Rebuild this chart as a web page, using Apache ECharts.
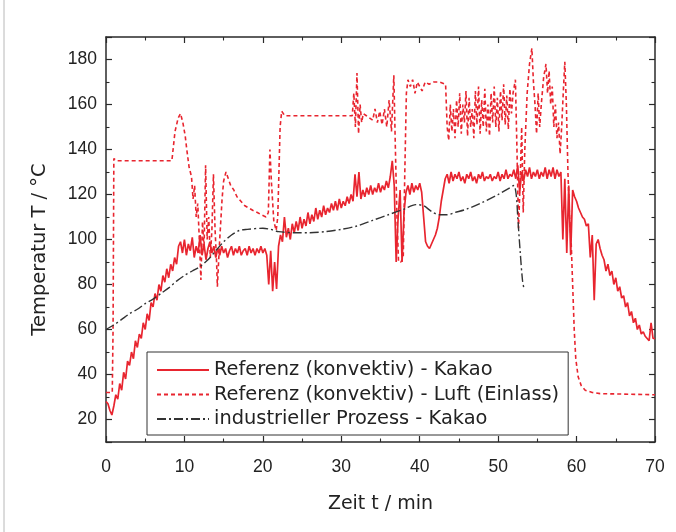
<!DOCTYPE html>
<html><head><meta charset="utf-8">
<script src="https://cdn.jsdelivr.net/npm/echarts@6/dist/echarts.min.js"></script>
<style>html,body{margin:0;padding:0;background:#fff}#c{width:676px;height:532px}</style>
</head><body><div id="c"></div>
<script>
// ---- data ----
const seriesNames = [
  'Referenz (konvektiv) - Kakao',
  'Referenz (konvektiv) - Luft (Einlass)',
  'industrieller Prozess - Kakao'
];
const xTickLabels = [0, 10, 20, 30, 40, 50, 60, 70];
const yTickLabels = [20, 40, 60, 80, 100, 120, 140, 160, 180];

// Kakao: sampled every 0.25 min from t = 0 to 70
const kakaoStart = 0, kakaoStep = 0.25;
const kakaoValues = [
  28,27,24,22,26,31,29,36,33,41,38,46,44,50,47,55,52,58,56,63,
  60,67,64,72,70,76,73,80,77,84,81,87,83,89,86,92,89,97,99,94,
  100,93,98,95,101,92,97,94,102,93,98,91,96,99,94,97,92,96,93,97,
  94,96,92,95,97,93,96,94,97,93,95,96,93,97,94,96,93,96,94,97,
  94,96,93,80,95,77,90,78,97,102,99,110,101,105,100,107,103,108,104,110,
  105,109,106,112,107,111,108,114,109,113,110,115,111,114,112,116,113,117,113,118,
  114,117,115,119,116,120,117,129,119,130,118,122,119,123,120,124,120,123,121,125,
  121,124,122,126,123,128,135,124,90,110,122,90,112,121,124,120,125,121,124,122,
  125,121,110,99,97,96,98,100,102,105,110,117,122,127,129,125,130,126,129,127,
  130,126,128,125,129,127,130,126,128,125,129,127,130,126,128,127,129,126,128,127,
  130,126,129,127,131,127,129,128,131,127,133,121,130,126,131,128,132,127,130,128,
  131,127,130,128,132,127,131,128,132,127,131,128,130,100,127,94,124,93,122,119,
  117,114,112,110,109,106,107,92,102,73,98,100,96,93,91,86,89,84,86,80,
  83,77,79,74,75,70,72,66,68,63,65,60,62,58,59,57,57,55,63,56,
  56
];

// Luft (Einlass)
const luftTime = [
  0,0.8,0.9,1.0,1.3,8.4,8.8,9.2,9.5,9.8,10.1,10.3,10.6,10.9,11.1,11.3,11.5,11.7,11.9,12.1,
  12.3,12.5,12.7,12.9,13.1,13.3,13.5,13.7,13.9,14.1,14.2,14.5,14.8,15.0,15.3,15.6,15.9,16.3,16.7,17.2,
  17.7,18.2,18.7,19.3,19.8,20.4,20.7,20.9,21.1,21.4,21.7,21.9,22.2,22.4,22.8,31.4,31.6,31.8,32.0,32.2,
  32.4,32.6,32.8,33.2,34.0,34.3,34.6,34.9,35.2,35.5,35.8,36.1,36.4,36.7,36.9,37.1,37.3,37.6,37.9,38.1,
  38.3,38.5,38.8,39.1,39.4,39.7,40.0,40.3,40.7,41.2,41.8,42.5,43.3,43.5,43.7,43.9,44.1,44.3,44.5,44.7,
  44.9,45.1,45.3,45.5,45.7,45.9,46.1,46.3,46.5,46.7,46.9,47.1,47.3,47.5,47.7,47.9,48.1,48.3,48.5,48.7,
  48.9,49.1,49.3,49.5,49.7,49.9,50.1,50.3,50.5,50.7,50.9,51.1,51.3,51.5,51.7,51.9,52.2,52.4,52.6,52.8,
  53.0,53.2,53.4,53.7,54.0,54.3,54.5,54.7,54.9,55.1,55.3,55.5,55.8,56.1,56.3,56.5,56.7,56.9,57.1,57.3,
  57.5,57.7,57.9,58.1,58.3,58.5,58.7,58.9,59.1,59.3,59.5,59.7,59.9,60.2,60.6,61.1,62,63,70
];
const luftValues = [
  32,32,60,136,135,135,148,154,156,152,146,140,132,128,118,124,110,116,100,82,
  108,96,133,100,110,92,104,129,105,90,79,100,118,126,130,127,124,122,119,117,
  115,114,113,112,111,110,112,140,125,108,104,110,150,157,155,155,165,150,174,147,
  160,152,156,155,153,158,152,157,151,158,150,162,148,173,140,110,90,90,92,130,
  165,171,168,171,165,170,168,166,170,169,170,170,169,150,144,160,148,158,145,162,
  150,165,147,160,152,166,146,163,150,158,145,166,151,168,147,162,150,167,148,160,
  146,165,152,168,150,163,148,166,153,169,151,164,149,167,156,165,171,140,105,125,
  150,112,140,165,178,185,170,160,147,165,150,160,172,178,165,175,160,168,150,160,
  145,152,138,150,165,179,160,130,110,100,80,60,47,39,35,33,32,31.5,31
];

// industrieller Prozess - Kakao
const induTime = [
  0,1,2,3,4,5,6,7,8,9,10,11,12,13,14,15,16,17,18,20,
  21,22,24,26,28,30,32,34,36,38,39.5,40.5,41.5,42.5,43.5,44.5,46,48,50,51.5,
  52,52.3,52.5,52.8,53.1,53.3
];
const induValues = [
  60,62,64.5,67,69,71.5,73.5,76,78.5,81.5,84,86,88,91,95,99,102,104,104.5,105,
  104.5,103.5,103,103,103.5,104.5,106,108.5,111,113.5,115.5,115,112.5,111,111,112,113.5,116.5,120,123,
  124,120,110,95,82,78
];

// ---- build ----
const kakaoData = kakaoValues.map((v, i) => [kakaoStart + i * kakaoStep, v]);
const luftData = luftTime.map((t, i) => [t, luftValues[i]]);
const induData = induTime.map((t, i) => [t, induValues[i]]);

const FONT = 'Liberation Sans, Arial, sans-serif';
const WIDEFONT = 'DejaVu Sans, sans-serif';
const AX = '#2a2a2a';
const RED = '#e8252f';

const baseAxis = {
  axisLine: { show: true, onZero: false, lineStyle: { color: AX, width: 1.5 } },
  axisTick: { show: true, inside: true, length: 6, lineStyle: { color: AX, width: 1.2 } },
  minorTick: { show: true, splitNumber: 2, length: 3.5, lineStyle: { color: AX, width: 1.1 } },
  splitLine: { show: false },
  minorSplitLine: { show: false }
};

const chart = echarts.init(document.getElementById('c'), null, { renderer: 'canvas' });
chart.setOption({
  backgroundColor: '#ffffff',
  animation: false,
  graphic: [
    { type: 'line', shape: { x1: 4, y1: 0, x2: 4, y2: 532 }, style: { stroke: '#b8b8b8', lineWidth: 1 }, silent: true }
  ],
  grid: { left: 106, right: 21, top: 37, bottom: 90 },
  legend: {
    orient: 'vertical',
    left: 147,
    top: 352,
    data: seriesNames,
    itemWidth: 52,
    itemHeight: 14,
    itemGap: 4.5,
    padding: [8, 9, 6, 9],
    borderColor: '#333',
    borderWidth: 1,
    backgroundColor: '#fff',
    itemStyle: { opacity: 0, borderWidth: 0 },
    textStyle: { fontFamily: WIDEFONT, fontSize: 19.4, lineHeight: 20, color: '#222' }
  },
  xAxis: [
    Object.assign({}, baseAxis, {
      type: 'value', min: 0, max: 70, interval: 10, position: 'bottom',
      name: 'Zeit t / min', nameLocation: 'middle', nameGap: 53,
      nameTextStyle: { fontFamily: WIDEFONT, fontSize: 19, color: '#222' },
      axisLabel: { margin: 16, fontFamily: FONT, fontSize: 17.5, color: '#222',
        formatter: v => xTickLabels.includes(v) ? String(v) : '' }
    }),
    Object.assign({}, baseAxis, {
      type: 'value', min: 0, max: 70, interval: 10, position: 'top',
      axisLabel: { show: false }
    })
  ],
  yAxis: [
    Object.assign({}, baseAxis, {
      type: 'value', min: 10, max: 190, splitNumber: 9, position: 'left',
      name: 'Temperatur T / °C', nameLocation: 'middle', nameGap: 56,
      nameTextStyle: { fontFamily: WIDEFONT, fontSize: 19.5, color: '#222', padding: [0, 20, 0, 0] },
      axisLabel: { margin: 9, fontFamily: FONT, fontSize: 17.5, color: '#222',
        showMinLabel: false, showMaxLabel: false,
        formatter: v => yTickLabels.includes(v) ? String(v) : '' }
    }),
    Object.assign({}, baseAxis, {
      type: 'value', min: 10, max: 190, splitNumber: 9, position: 'right',
      axisLabel: { show: false }
    })
  ],
  series: [
    {
      name: seriesNames[0], type: 'line', data: kakaoData, showSymbol: false, symbol: 'none',
      lineStyle: { color: RED, width: 1.7 }, itemStyle: { color: RED }, z: 2
    },
    {
      name: seriesNames[1], type: 'line', data: luftData, showSymbol: false, symbol: 'none',
      lineStyle: { color: RED, width: 1.6, type: [4, 3] }, itemStyle: { color: RED }, z: 3
    },
    {
      name: seriesNames[2], type: 'line', data: induData, showSymbol: false, symbol: 'none', smooth: 0.3,
      lineStyle: { color: '#333', width: 1.4, type: [9, 3, 2, 3] }, itemStyle: { color: '#333' }, z: 4
    }
  ]
});
</script>
</body></html>
